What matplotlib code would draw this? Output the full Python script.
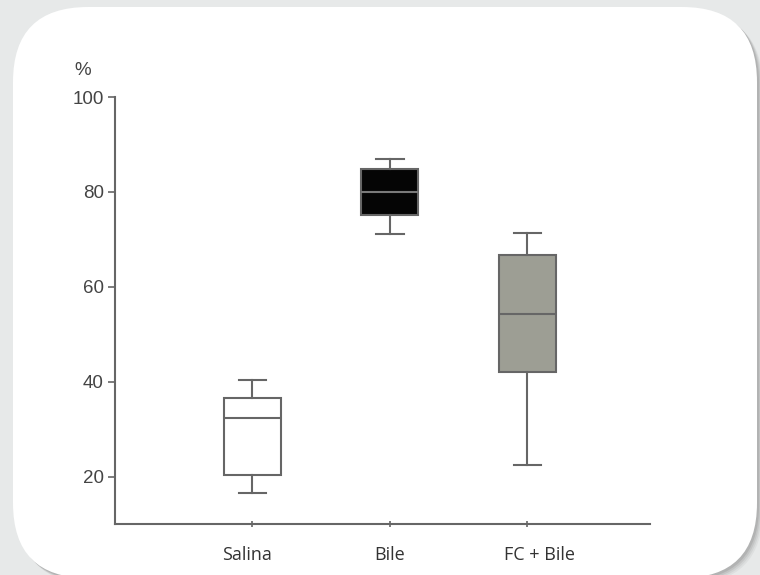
import numpy as np
import matplotlib
matplotlib.use("Agg")
from matplotlib import pyplot as plt
from matplotlib.patches import FancyBboxPatch
from matplotlib.transforms import ScaledTranslation

# box plot statistics (%)
groups = ['Salina', 'Bile', 'FC + Bile']
whis_lo = [16.6, 71.2, 22.5]
q1 = [20.4, 75.2, 42.1]
median = [32.4, 80.0, 54.3]
q3 = [36.6, 84.8, 66.7]
whis_hi = [40.4, 86.9, 71.4]
box_colors = ['#ffffff', '#050505', '#9d9e94']

yticks = [20, 40, 60, 80, 100]

line_col = '#666666'

fig = plt.figure(figsize=(7.6, 5.75), dpi=100)
fig.patch.set_facecolor('#e7e9e9')

# rounded white card with a soft shadow (inches from lower left)
card_xy = (0.13, -0.03)
card_w, card_h = 7.44, 5.71
for k, a in enumerate([0.08, 0.10, 0.14, 0.20]):
    off = 0.06 - 0.013 * k
    sh = FancyBboxPatch((card_xy[0] + off, card_xy[1] - off), card_w, card_h,
                        boxstyle="round,pad=0,rounding_size=0.75",
                        transform=fig.dpi_scale_trans, facecolor='#6f6f6f',
                        edgecolor='none', alpha=a, zorder=-3)
    fig.patches.append(sh)
card = FancyBboxPatch(card_xy, card_w, card_h,
                      boxstyle="round,pad=0,rounding_size=0.75",
                      transform=fig.dpi_scale_trans, facecolor='white',
                      edgecolor='none', zorder=-2)
fig.patches.append(card)

ax = fig.add_axes([0.151, 0.0887, 0.704, 0.7426])
ax.set_facecolor('none')

stats = []
for i in range(len(groups)):
    stats.append(dict(label=groups[i], whislo=whis_lo[i], q1=q1[i], med=median[i],
                      q3=q3[i], whishi=whis_hi[i], fliers=[]))

pos = np.arange(1, len(groups) + 1)
bp = ax.bxp(stats, positions=pos, widths=0.415, patch_artist=True, showfliers=False,
            capwidths=0.2,
            boxprops=dict(edgecolor=line_col, linewidth=1.5),
            whiskerprops=dict(color=line_col, linewidth=1.5),
            capprops=dict(color=line_col, linewidth=1.5),
            medianprops=dict(color=line_col, linewidth=1.5))
for patch, c in zip(bp['boxes'], box_colors):
    patch.set_facecolor(c)
bp['medians'][1].set_color('#7a7a7a')

ax.set_xlim(0, 3.89)
ax.set_ylim(10, 100)
ax.set_yticks(yticks)
ax.set_yticklabels([str(v) for v in yticks], fontfamily='Liberation Sans', fontsize=13.5,
                   color='#444444')
ax.set_xticks(pos)
ax.set_xticklabels([])

# group names, a little off their ticks as in the original
shifts = [-5, 0, 12]
for p, name, dx in zip(pos, groups, shifts):
    tr = ax.get_xaxis_transform() + ScaledTranslation(dx / 100, -0.31, fig.dpi_scale_trans)
    ax.text(p, 0, name, transform=tr, ha='center', va='center',
            fontfamily='Open Sans', fontsize=13, color='#333333')

for s in ['top', 'right']:
    ax.spines[s].set_visible(False)
for s in ['left', 'bottom']:
    ax.spines[s].set_color(line_col)
    ax.spines[s].set_linewidth(1.5)

ax.tick_params(axis='y', direction='out', length=5, width=1.2, color=line_col, pad=3)
ax.tick_params(axis='x', direction='inout', length=5, width=1.2, color=line_col)

ax.text(-0.06, 1.062, '%', transform=ax.transAxes, ha='center', va='center',
        fontfamily='Liberation Sans', fontsize=13.5, color='#444444')

fig.savefig('out.png', dpi=100, facecolor=fig.get_facecolor())
